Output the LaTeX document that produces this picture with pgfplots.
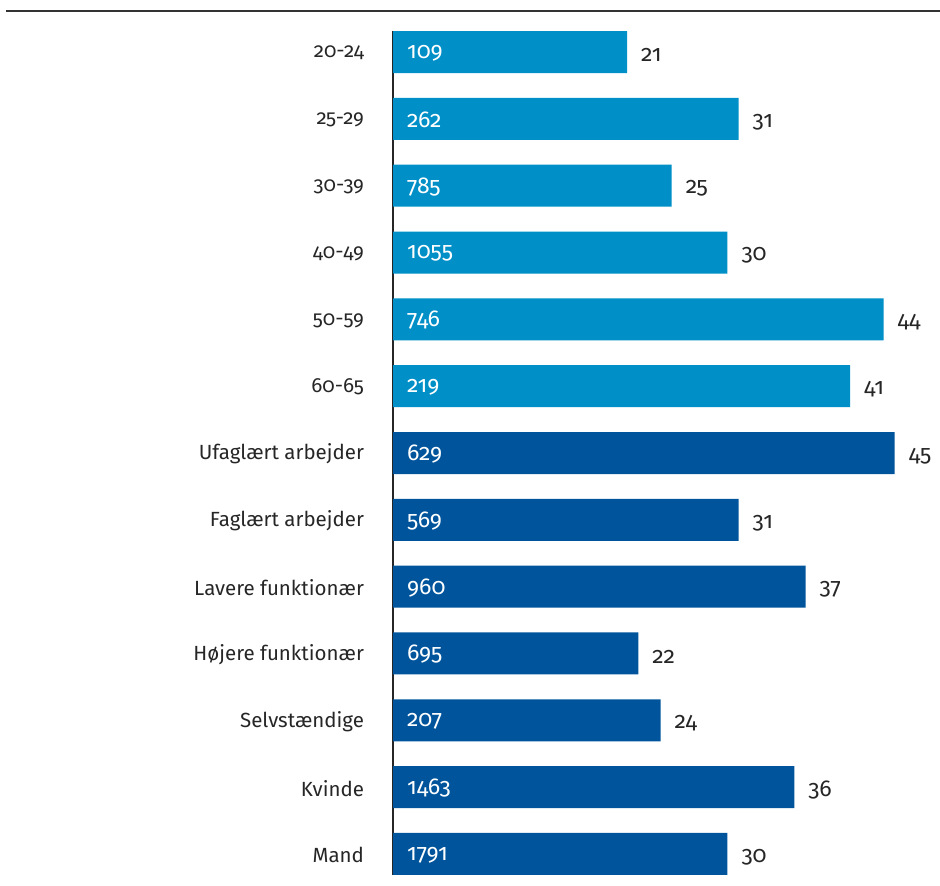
\documentclass[border=0pt]{standalone}
\usepackage{fontspec}
\setmainfont{Fira Sans}[Numbers=OldStyle]
\usepackage{pgfplots}
\usepackage{pgfplotstable}
\pgfplotsset{compat=1.18}
\definecolor{lightb}{RGB}{0,143,199}
\definecolor{darkb}{RGB}{0,84,155}
\pgfplotstableread{
idx val n
0 21 109
1 31 262
2 25 785
3 30 1055
4 44 746
5 41 219
}\agetab
\pgfplotstableread{
idx val n
6 45 629
7 31 569
8 37 960
9 22 695
10 24 207
11 36 1463
12 30 1791
}\grptab
\begin{document}
\fontsize{20.5pt}{24pt}\selectfont
\begin{tikzpicture}[x=1pt,y=1pt]
\useasboundingbox (0,0) rectangle (940,886);
\draw[line width=2pt, color=black!80] (6,875) -- (940,875);
\begin{axis}[
  at={(393pt,11pt)}, anchor=south west,
  scale only axis, width=547pt, height=844pt,
  xmin=0, xmax=49.06,
  ymin=-0.315, ymax=12.315, y dir=reverse,
  axis x line=none,
  axis y line*=left,
  y axis line style={-, line width=1.2pt, color=black!85},
  ytick={0,...,12},
  yticklabels={20-24,25-29,30-39,40-49,50-59,60-65,Ufaglært arbejder,Faglært arbejder,Lavere funktionær,Højere funktionær,Selvstændige,Kvinde,Mand},
  yticklabel style={font=\fontsize{20.5pt}{24pt}\selectfont, text=black!85, anchor=east},
  major tick length=0pt,
  y tick label style={xshift=-22pt, yshift=-1pt},
  clip=false,
]
\addplot[xbar, bar width=42pt, bar shift=0pt, fill=lightb, draw=none,
  nodes near coords, point meta=explicit symbolic,
  nodes near coords style={anchor=west, xshift=7pt, yshift=-3pt, text=black!85, font=\fontsize{23pt}{26pt}\selectfont}]
  table[x=val, y=idx, meta=val] {\agetab};
\addplot[xbar, bar width=42pt, bar shift=0pt, fill=darkb, draw=none,
  nodes near coords, point meta=explicit symbolic,
  nodes near coords style={anchor=west, xshift=7pt, yshift=-3pt, text=black!85, font=\fontsize{23pt}{26pt}\selectfont}]
  table[x=val, y=idx, meta=val] {\grptab};
\addplot[only marks, mark=none, draw=none,
  nodes near coords, point meta=explicit symbolic,
  nodes near coords style={anchor=west, xshift=7pt, yshift=-1pt, text=white, font=\fontsize{23pt}{26pt}\selectfont}]
  table[x expr=0, y=idx, meta=n] {\agetab};
\addplot[only marks, mark=none, draw=none,
  nodes near coords, point meta=explicit symbolic,
  nodes near coords style={anchor=west, xshift=7pt, yshift=-1pt, text=white, font=\fontsize{23pt}{26pt}\selectfont}]
  table[x expr=0, y=idx, meta=n] {\grptab};
\end{axis}
\end{tikzpicture}
\end{document}
